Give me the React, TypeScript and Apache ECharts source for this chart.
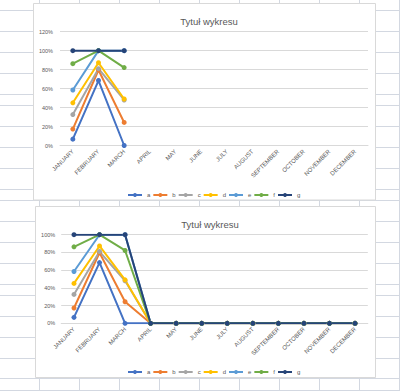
import React, { useEffect, useRef } from "react";
import * as echarts from "echarts";

const MONTHS = [
  "JANUARY", "FEBRUARY", "MARCH", "APRIL", "MAY", "JUNE",
  "JULY", "AUGUST", "SEPTEMBER", "OCTOBER", "NOVEMBER", "DECEMBER",
];
const SERIES_NAMES = ["a", "b", "c", "d", "e", "f", "g"];
const COLORS = ["#4472C4", "#ED7D31", "#A5A5A5", "#FFC000", "#5B9BD5", "#70AD47", "#264478"];

// top chart (values in %)
const TOP_A = [6.7, 68.5, 0, null, null, null, null, null, null, null, null, null];
const TOP_B = [17.3, 79.6, 24.3, null, null, null, null, null, null, null, null, null];
const TOP_C = [32.6, 81, 48, null, null, null, null, null, null, null, null, null];
const TOP_D = [45, 87.3, 49, null, null, null, null, null, null, null, null, null];
const TOP_E = [58.5, 100, 100, null, null, null, null, null, null, null, null, null];
const TOP_F = [86.3, 100, 82.2, null, null, null, null, null, null, null, null, null];
const TOP_G = [100, 100, 100, null, null, null, null, null, null, null, null, null];

// bottom chart (values in %)
const BOT_A = [6.7, 68.5, 0, 0, 0, 0, 0, 0, 0, 0, 0, 0];
const BOT_B = [17.3, 79.6, 24.3, 0, 0, 0, 0, 0, 0, 0, 0, 0];
const BOT_C = [32.6, 81, 48, 0, 0, 0, 0, 0, 0, 0, 0, 0];
const BOT_D = [45, 87.3, 49, 0, 0, 0, 0, 0, 0, 0, 0, 0];
const BOT_E = [58.5, 100, 100, 0, 0, 0, 0, 0, 0, 0, 0, 0];
const BOT_F = [86.3, 100, 82.2, 0, 0, 0, 0, 0, 0, 0, 0, 0];
const BOT_G = [100, 100, 100, 0, 0, 0, 0, 0, 0, 0, 0, 0];

const TOP_DATA = [TOP_A, TOP_B, TOP_C, TOP_D, TOP_E, TOP_F, TOP_G];
const BOT_DATA = [BOT_A, BOT_B, BOT_C, BOT_D, BOT_E, BOT_F, BOT_G];

const TITLE = "Tytuł wykresu";

// spreadsheet background lines
const COL_X = [39.5, 79.5, 119.5, 159.5, 199.5, 239.5, 279.5, 319.5, 359.5, 399.5];
const ROW_Y = [
  10.5, 31.5, 52.5, 73.5, 94.5, 105.5, 126.5, 147.5, 168.5, 189.5, 200.5,
  221.5, 242.5, 263.5, 284.5, 295.5, 316.5, 337.5, 358.5, 378.5, 390.5,
];
const SHEET_LINE = "#d3d8e1";
const TEXT = "#595959";
const FONT = "Liberation Sans, Arial, sans-serif";

export default function App() {
  const ref = useRef<HTMLDivElement>(null);

  useEffect(() => {
    if (!ref.current) return;
    const chart = echarts.init(ref.current, undefined, { renderer: "svg" });

    const graphics: any[] = [];
    COL_X.forEach((x) =>
      graphics.push({
        type: "line",
        shape: { x1: x, y1: 0, x2: x, y2: 391 },
        style: { stroke: SHEET_LINE, lineWidth: 1 },
        silent: true,
      })
    );
    ROW_Y.forEach((y) =>
      graphics.push({
        type: "line",
        shape: { x1: 0, y1: y, x2: 400, y2: y },
        style: { stroke: SHEET_LINE, lineWidth: 1 },
        silent: true,
      })
    );
    graphics.push({
      type: "rect",
      shape: { x: 33.5, y: 3.5, width: 342, height: 196.5 },
      style: { fill: "#ffffff", stroke: "#d9d9d9", lineWidth: 1 },
      silent: true,
    });
    graphics.push({
      type: "rect",
      shape: { x: 35.5, y: 206.5, width: 340, height: 171 },
      style: { fill: "#ffffff", stroke: "#d9d9d9", lineWidth: 1 },
      silent: true,
    });

    const makeX = (gridIndex: number) => ({
      type: "category",
      gridIndex,
      data: MONTHS,
      boundaryGap: true,
      z: 5,
      axisLine: { show: true, lineStyle: { color: "#d9d9d9", width: 1 } },
      axisTick: { show: false },
      axisLabel: {
        rotate: 45,
        interval: 0,
        fontSize: 6,
        color: TEXT,
        fontFamily: FONT,
        margin: 5,
      },
      splitLine: { show: false },
    });

    const makeY = (gridIndex: number, max: number, margin: number) => ({
      type: "value",
      gridIndex,
      min: 0,
      max,
      interval: 20,
      z: 5,
      axisLine: { show: false },
      axisTick: { show: false },
      axisLabel: {
        formatter: "{value}%",
        fontSize: 5.5,
        color: TEXT,
        fontFamily: FONT,
        margin,
      },
      splitLine: { show: true, lineStyle: { color: "#d9d9d9", width: 1 } },
    });

    const series: any[] = [];
    TOP_DATA.forEach((d, i) =>
      series.push({
        type: "line",
        name: SERIES_NAMES[i],
        xAxisIndex: 0,
        yAxisIndex: 0,
        data: d,
        symbol: "circle",
        symbolSize: 5,
        showSymbol: true,
        connectNulls: false,
        z: 10,
        lineStyle: { color: COLORS[i], width: 2 },
        itemStyle: { color: COLORS[i] },
      })
    );
    BOT_DATA.forEach((d, i) =>
      series.push({
        type: "line",
        name: SERIES_NAMES[i],
        xAxisIndex: 1,
        yAxisIndex: 1,
        data: d,
        symbol: "circle",
        symbolSize: 5,
        showSymbol: true,
        z: 10,
        lineStyle: { color: COLORS[i], width: 2 },
        itemStyle: { color: COLORS[i] },
      })
    );

    const legend = (top: number) => ({
      data: SERIES_NAMES,
      left: 122,
      top,
      orient: "horizontal",
      itemWidth: 14,
      itemHeight: 5,
      itemGap: 2,
      z: 10,
      selectedMode: false,
      textStyle: { fontSize: 6, color: TEXT, fontFamily: FONT },
    });

    chart.setOption({
      animation: false,
      backgroundColor: "#ffffff",
      graphic: { elements: graphics },
      title: [
        {
          text: TITLE,
          left: 204,
          top: 11.5,
          textAlign: "center",
          z: 10,
          textStyle: { fontSize: 9.5, fontWeight: "normal", color: TEXT, fontFamily: FONT },
        },
        {
          text: TITLE,
          left: 205,
          top: 214.5,
          textAlign: "center",
          z: 10,
          textStyle: { fontSize: 9.5, fontWeight: "normal", color: TEXT, fontFamily: FONT },
        },
      ],
      legend: [legend(187), legend(364)],
      grid: [
        { left: 60, right: 32, top: 31.7, bottom: 245.5, containLabel: false },
        { left: 61.2, right: 32.2, top: 234.7, bottom: 67.7, containLabel: false },
      ],
      xAxis: [makeX(0), makeX(1)],
      yAxis: [makeY(0, 120, 7), makeY(1, 100, 6)],
      series,
    });

    return () => chart.dispose();
  }, []);

  return (
    <div
      ref={ref}
      style={{ position: "absolute", left: 0, top: 0, width: 400, height: 391 }}
    />
  );
}
